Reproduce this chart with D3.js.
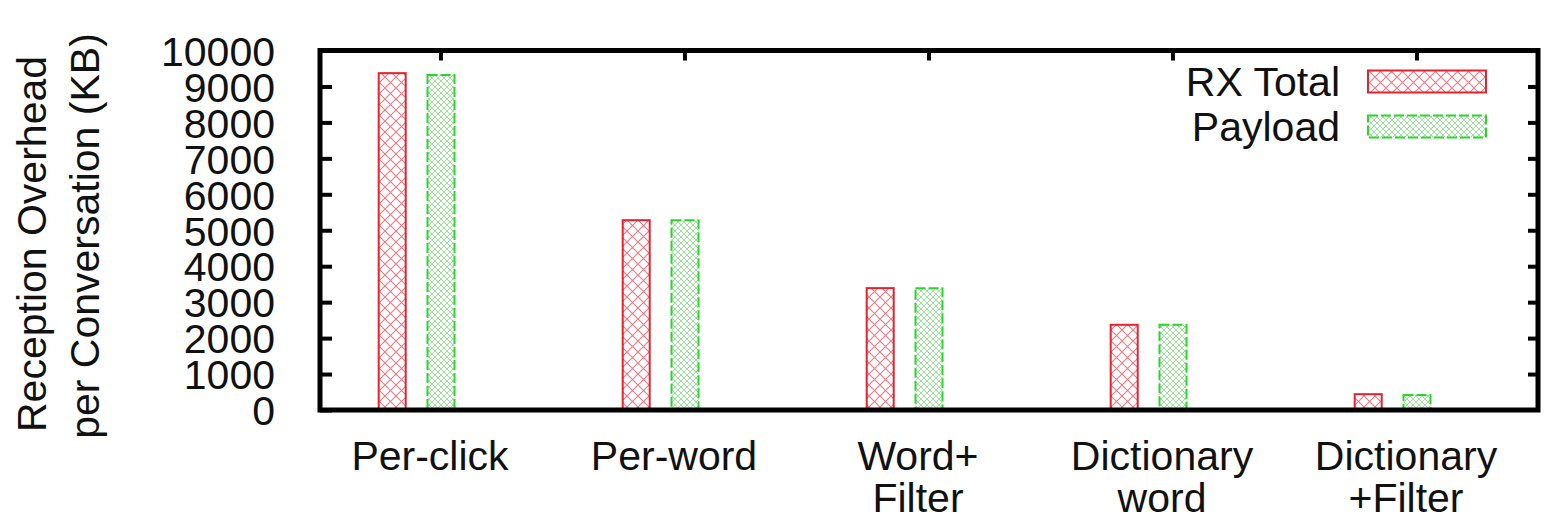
<!DOCTYPE html>
<html>
<head>
<meta charset="utf-8">
<script src="https://cdn.jsdelivr.net/npm/d3@7"></script>
<style>
  html, body { margin: 0; padding: 0; background: #fff; }
  svg { display: block; }
  text { font-family: "Liberation Sans", Arial, Helvetica, sans-serif; fill: #111; }
</style>
</head>
<body>
<svg id="chart" width="1544" height="519"></svg>
<script>
// ---- data ----
const categories = ["Per-click", "Per-word", "Word+\nFilter", "Dictionary\nword", "Dictionary\n+Filter"];
const seriesNames = ["RX Total", "Payload"];
const rxTotal = [9370, 5280, 3390, 2370, 440];
const payload = [9320, 5280, 3390, 2370, 420];
const yTicks = [0, 1000, 2000, 3000, 4000, 5000, 6000, 7000, 8000, 9000, 10000];
const yTitle = ["Reception Overhead", "per Conversation (KB)"];

// ---- layout ----
const frame = { left: 320, right: 1538, top: 50.5, bottom: 410 };
const fontSize = 41;

const svg = d3.select("#chart");

// patterns
const defs = svg.append("defs");
function hatch(id, size, color, width) {
  const p = defs.append("pattern")
    .attr("id", id).attr("patternUnits", "userSpaceOnUse")
    .attr("width", size).attr("height", size);
  p.append("rect").attr("width", size).attr("height", size).attr("fill", "#fff");
  p.append("path").attr("d", `M0,0 L${size},${size} M${size},0 L0,${size}`)
    .attr("stroke", color).attr("stroke-width", width).attr("fill", "none");
}
hatch("patRed", 11, "#ec7a84", 1.1);
hatch("patGreen", 6, "#8fe08f", 0.9);

const seriesStyle = [
  { fill: "url(#patRed)", stroke: "#e3232e", dash: null },
  { fill: "url(#patGreen)", stroke: "#2bd62b", dash: "10,3" }
];

const x = d3.scaleBand().domain(categories).range([frame.left - 1, frame.right + 1]).paddingInner(0).paddingOuter(0);
const slot = x.bandwidth() / 5;
const barW = 27;
const y = d3.scaleLinear().domain([0, 10000]).range([frame.bottom, frame.top]);

const values = [rxTotal, payload];

// bars
values.forEach((vals, s) => {
  svg.append("g").selectAll("rect").data(categories).join("rect")
    .attr("x", d => x(d) + slot * (1.5 + s) - barW / 2)
    .attr("width", barW)
    .attr("y", (d, i) => y(vals[i]))
    .attr("height", (d, i) => y(0) - y(vals[i]))
    .attr("fill", seriesStyle[s].fill)
    .attr("stroke", seriesStyle[s].stroke)
    .attr("stroke-width", 2)
    .attr("stroke-dasharray", seriesStyle[s].dash);
});

// y axis (left) with inward ticks
const yAxisL = d3.axisLeft(y).tickValues(yTicks).tickSize(-12).tickPadding(45).tickFormat(d3.format("d"));
const gL = svg.append("g").attr("transform", `translate(${frame.left},0)`).call(yAxisL);
gL.select(".domain").remove();
gL.selectAll(".tick line").attr("stroke", "#000").attr("stroke-width", 4);
gL.selectAll(".tick text").attr("font-size", fontSize).attr("fill", "#111")
  .attr("font-family", "Liberation Sans, Arial, sans-serif").attr("dy", "0.36em");

// right mirrored ticks
const yAxisR = d3.axisRight(y).tickValues(yTicks.slice(1, -1)).tickSize(-10).tickFormat("");
const gR = svg.append("g").attr("transform", `translate(${frame.right},0)`).call(yAxisR);
gR.select(".domain").remove();
gR.selectAll(".tick line").attr("stroke", "#000").attr("stroke-width", 4);

// top ticks at category centers
const xAxisT = d3.axisTop(x).tickSize(-10).tickFormat("");
const gT = svg.append("g").attr("transform", `translate(0,${frame.top})`).call(xAxisT);
gT.select(".domain").remove();
gT.selectAll(".tick line").attr("stroke", "#000").attr("stroke-width", 4);

// x labels
const gX = svg.append("g");
categories.forEach(c => {
  const lines = c.split("\n");
  const cx = x(c) + x.bandwidth() / 2 - 11;
  const t = gX.append("text")
    .attr("text-anchor", "middle")
    .attr("font-size", fontSize)
    .attr("x", cx)
    .attr("y", 470);
  lines.forEach((ln, i) => {
    t.append("tspan").attr("x", cx).attr("dy", i === 0 ? 0 : 42).text(ln);
  });
});

// frame
svg.append("rect")
  .attr("x", frame.left).attr("y", frame.top)
  .attr("width", frame.right - frame.left).attr("height", frame.bottom - frame.top)
  .attr("fill", "none").attr("stroke", "#000").attr("stroke-width", 5);

// y title
const titleX = [46, 99];
const titleY = [244, 236];
yTitle.forEach((t, i) => {
  svg.append("text")
    .attr("transform", `translate(${titleX[i]},${titleY[i]}) rotate(-90)`)
    .attr("text-anchor", "middle")
    .attr("font-size", fontSize)
    .text(t);
});

// legend
const leg = svg.append("g");
seriesNames.forEach((name, s) => {
  const cy = 81.5 + s * 45;
  leg.append("rect")
    .attr("x", 1368).attr("y", cy - 11).attr("width", 118).attr("height", 22)
    .attr("fill", seriesStyle[s].fill).attr("stroke", seriesStyle[s].stroke)
    .attr("stroke-width", 2).attr("stroke-dasharray", seriesStyle[s].dash);
  leg.append("text")
    .attr("x", 1340).attr("y", cy).attr("dy", "0.36em")
    .attr("text-anchor", "end").attr("font-size", fontSize)
    .text(name);
});
</script>
</body>
</html>
